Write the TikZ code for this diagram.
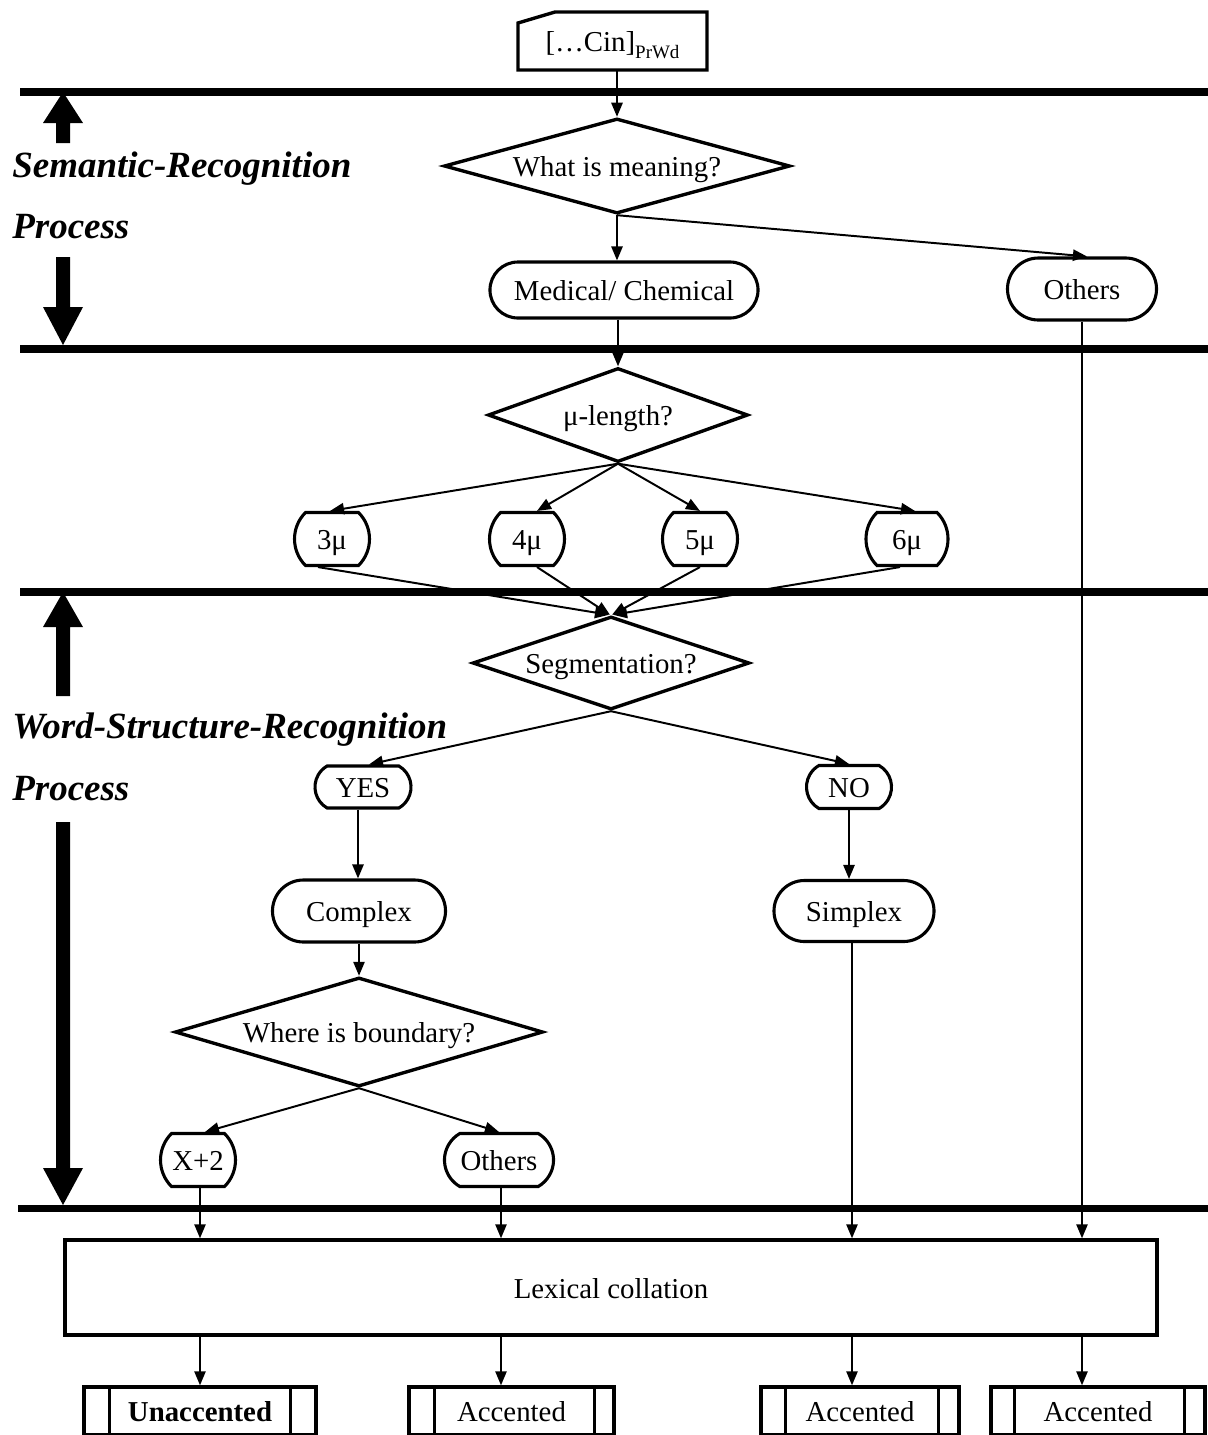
\documentclass[tikz,border=0pt]{standalone}
\usepackage{fontspec}
\setmainfont{Liberation Serif}
\usetikzlibrary{arrows.meta,shapes.geometric,shapes.misc,calc}
\begin{document}
\begin{tikzpicture}[x=0.025cm,y=-0.025cm,
  every node/.style={font=\fontsize{20.5}{24}\selectfont},
  tx/.style={text height=17.5pt,text depth=2pt},
  arr/.style={line width=1.4pt,-{Triangle[length=10pt,width=8pt]}},
  band/.style={line width=5pt},
  dia/.style={tx,draw,diamond,line width=2.4pt,inner sep=0pt},
  stad/.style={tx,draw,rounded rectangle,line width=2.2pt,inner sep=0pt},
  barrel/.style={tx,draw,rounded rectangle,rounded rectangle arc length=90,line width=2.2pt,inner sep=0pt},
  outbox/.style={tx,draw,rectangle,line width=2.4pt,inner sep=0pt,minimum height=1.2cm},
  lab/.style={anchor=base west,font=\fontsize{26.3}{30}\selectfont\bfseries\itshape,inner sep=0pt}
]
\useasboundingbox (0,0) rectangle (1208,1435);
\fill[white] (0,0) rectangle (1208,1435);

% band lines
\draw[band] (20,92) -- (1208,92);
\draw[band] (20,349) -- (1208,349);
\draw[band] (20,592) -- (1208,592);
\draw[band] (18,1208) -- (1208,1208);

% side labels and thick arrows
\node[lab] (sr) at (12,177) {Semantic-Recognition};
\node[lab] (sp) at (12,238) {Process};
\node[lab] (wr) at (12,738) {Word-Structure-Recognition};
\node[lab] (wp) at (12,800) {Process};
\fill (63,92) -- (83,123) -- (70,123) -- (70,143) -- (56,143) -- (56,123) -- (43,123) -- cycle;
\fill (63,345) -- (83,307) -- (70,307) -- (70,257) -- (56,257) -- (56,307) -- (43,307) -- cycle;
\fill (63,592) -- (83,627) -- (70,627) -- (70,696) -- (56,696) -- (56,627) -- (43,627) -- cycle;
\fill (63,1205) -- (83,1168) -- (70,1168) -- (70,822) -- (56,822) -- (56,1168) -- (43,1168) -- cycle;

% input
\node[tx,minimum width=4.725cm,minimum height=1.45cm,inner sep=0pt] (in) at (612.5,41) {[…Cin]\raisebox{-5pt}{\fontsize{13.5}{15}\selectfont PrWd}};
\draw[line width=2.4pt] (518,23) -- (555,12) -- (707,12) -- (707,70) -- (518,70) -- cycle;

% nodes
\node[dia,shape aspect=3.64,minimum width=8.65cm,minimum height=2.375cm] (m1) at (617,166) {What is meaning?};
\node[stad,minimum width=6.7cm,minimum height=1.4cm] (med) at (624,290) {Medical/ Chemical};
\node[stad,minimum width=3.725cm,minimum height=1.55cm] (o1) at (1082,289) {Others};
\node[dia,shape aspect=2.77,minimum width=6.5cm,minimum height=2.35cm] (mu) at (618,415) {μ-length?};
\node[barrel,minimum width=1.775cm,minimum height=1.325cm] (u3) at (332,539) {3μ};
\node[barrel,minimum width=1.775cm,minimum height=1.325cm] (u4) at (527,539) {4μ};
\node[barrel,minimum width=1.825cm,minimum height=1.325cm] (u5) at (700,539) {5μ};
\node[barrel,minimum width=2.05cm,minimum height=1.325cm] (u6) at (907,539) {6μ};
\node[dia,shape aspect=2.98,minimum width=6.925cm,minimum height=2.325cm] (seg) at (611,663) {Segmentation?};
\node[barrel,rounded rectangle arc length=120,minimum width=2.4cm,minimum height=1.05cm] (yes) at (363,787) {YES};
\node[barrel,rounded rectangle arc length=120,minimum width=2.125cm,minimum height=1.075cm] (no) at (849,787) {NO};
\node[stad,minimum width=4.325cm,minimum height=1.55cm] (cx) at (359,911) {Complex};
\node[stad,minimum width=4cm,minimum height=1.525cm] (sx) at (854,911) {Simplex};
\node[dia,shape aspect=3.38,minimum width=9.2cm,minimum height=2.725cm] (bd) at (359,1032) {Where is boundary?};
\node[barrel,minimum width=1.8cm,minimum height=1.325cm] (x2) at (198,1160) {X+2};
\node[barrel,rounded rectangle arc length=120,minimum width=2.725cm,minimum height=1.325cm] (o2) at (499,1160) {Others};
\node[tx,draw,rectangle,line width=2.4pt,minimum width=27.3cm,minimum height=2.375cm] (lex) at (611,1287.5) {Lexical collation};

% outputs
\node[outbox,minimum width=5.8cm] (ua) at (200,1411) {\bfseries Unaccented};
\node[outbox,minimum width=5.125cm] (a1) at (511.5,1411) {Accented};
\node[outbox,minimum width=4.95cm] (a2) at (860,1411) {Accented};
\node[outbox,minimum width=5.35cm] (a3) at (1098,1411) {Accented};
\draw[line width=2.4pt] ($(ua.north west)+(27,0)$) -- ($(ua.south west)+(27,0)$)
  ($(ua.north east)+(-27,0)$) -- ($(ua.south east)+(-27,0)$);
\draw[line width=2.4pt] ($(a1.north west)+(27,0)$) -- ($(a1.south west)+(27,0)$)
  ($(a1.north east)+(-21,0)$) -- ($(a1.south east)+(-21,0)$);
\draw[line width=2.4pt] ($(a2.north west)+(26,0)$) -- ($(a2.south west)+(26,0)$)
  ($(a2.north east)+(-22,0)$) -- ($(a2.south east)+(-22,0)$);
\draw[line width=2.4pt] ($(a3.north west)+(25,0)$) -- ($(a3.south west)+(25,0)$)
  ($(a3.north east)+(-22,0)$) -- ($(a3.south east)+(-22,0)$);

% helper coordinates
\coordinate (cx2) at ($(x2.south)+(2,0)$);
\coordinate (co2) at ($(o2.south)+(2,0)$);
\coordinate (csx) at ($(sx.south)+(-2,0)$);
\coordinate (cyes) at ($(cx.north)+(-1,0)$);

% connectors
\draw[arr] (in.south -| m1.north) -- (m1.north);
\draw[arr] (m1.south) -- (med.north -| m1.south);
\draw[arr] (m1.south) -- ($(o1.north)+(5,0)$);
\draw[arr] (med.south -| mu.north) -- (mu.north);
\draw[arr] (o1.south) -- (o1.south |- lex.north);

\draw[arr] (mu.south) -- ($(u3.north)+(-2,0)$);
\draw[arr] (mu.south) -- ($(u4.north)+(10,0)$);
\draw[arr] (mu.south) -- (u5.north);
\draw[arr] (mu.south) -- ($(u6.north)+(8,0)$);

\draw[arr] ($(u3.south)+(-14,0)$) -- ($(seg.north)+(-2,0)$);
\draw[arr] ($(u4.south)+(10,0)$) -- ($(seg.north)+(-1,0)$);
\draw[arr] (u5.south) -- ($(seg.north)+(1,0)$);
\draw[arr] ($(u6.south)+(-7,0)$) -- ($(seg.north)+(2,0)$);

\draw[arr] (seg.south) -- ($(yes.north)+(6,0)$);
\draw[arr] (seg.south) -- (no.north);
\draw[arr] (cyes |- yes.south) -- (cyes);
\draw[arr] (no.south) -- (no.south |- sx.north);
\draw[arr] (cx.south) -- (bd.north);
\draw[arr] (bd.south) -- ($(x2.north)+(7,0)$);
\draw[arr] (bd.south) -- (o2.north);

\draw[arr] (cx2) -- (cx2 |- lex.north);
\draw[arr] (co2) -- (co2 |- lex.north);
\draw[arr] (csx) -- (csx |- lex.north);

\draw[arr] (cx2 |- lex.south) -- (cx2 |- ua.north);
\draw[arr] (co2 |- lex.south) -- (co2 |- a1.north);
\draw[arr] (csx |- lex.south) -- (csx |- a2.north);
\draw[arr] (o1.south |- lex.south) -- (o1.south |- a3.north);
\end{tikzpicture}
\end{document}
